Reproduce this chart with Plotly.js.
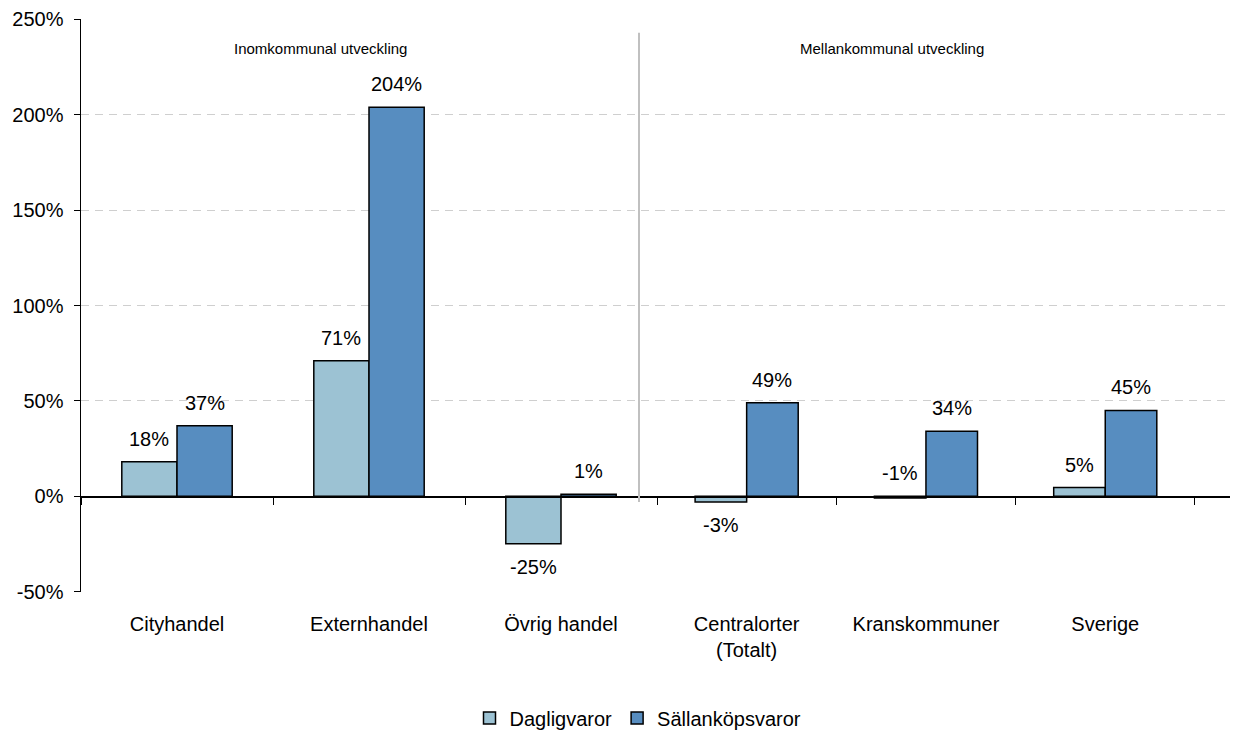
<!DOCTYPE html>
<html>
<head>
<meta charset="utf-8">
<script src="https://cdn.plot.ly/plotly-3.0.1.min.js"></script>
<style>html,body{margin:0;padding:0;background:#fff;}#chart{width:1234px;height:733px;}</style>
</head>
<body>
<div id="chart"></div>
<script>
// ---- data ----
var categories = ["Cityhandel", "Externhandel", "Övrig handel", "Centralorter<br>(Totalt)", "Kranskommuner", "Sverige"];
var dagligvaror = [18, 71, -25, -3, -1, 4.5];
var sallankopsvaror = [37, 204, 1, 49, 34, 45];
var dagligLabels = ["18%", "71%", "-25%", "-3%", "-1%", "5%"];
var sallanLabels = ["37%", "204%", "1%", "49%", "34%", "45%"];
var seriesNames = ["Dagligvaror", "Sällanköpsvaror"];
var sectionTitles = ["Inomkommunal utveckling", "Mellankommunal utveckling"];
var yTicks = [-50, 0, 50, 100, 150, 200, 250];
var yTickText = ["-50%", "0%", "50%", "100%", "150%", "200%", "250%"];

// ---- style ----
var FONT = "Liberation Sans, Arial, sans-serif";
var C1 = "#9cc2d3", C2 = "#578dc0";
var W = 1234, H = 733, ML = 81, MR = 4, MT = 19, MB = 141;
var plotW = W - ML - MR, plotH = H - MT - MB;
var yRange = [-50.25, 250.25];
var split = (657 - ML) / plotW;
var rightCat = 179.3;
var rightSpan = (plotW * (1 - split)) / rightCat;
var BARGAP = 0.425;
// label side for Dagligvaror (the -1% label sits above the axis)
var dagligSide = ["up", "up", "down", "down", "up", "up"];

var leftCats = categories.slice(0, 3), rightCats = categories.slice(3);
function tr(name, x, y, color, xa, show) {
  return {type: "bar", name: name, x: x, y: y, xaxis: xa, yaxis: "y",
    marker: {color: color, line: {color: "#000", width: 1.5}},
    showlegend: show, legendgroup: name, hoverinfo: "skip"};
}
var data = [
  tr(seriesNames[0], leftCats, dagligvaror.slice(0, 3), C1, "x", true),
  tr(seriesNames[1], leftCats, sallankopsvaror.slice(0, 3), C2, "x", true),
  tr(seriesNames[0], rightCats, dagligvaror.slice(3), C1, "x2", false),
  tr(seriesNames[1], rightCats, sallankopsvaror.slice(3), C2, "x2", false)
];

var zeroPos = (0 - yRange[0]) / (yRange[1] - yRange[0]);
var leftCatPx = plotW * split / 3;
var annotations = [];
categories.forEach(function (c, i) {
  var xref = i < 3 ? "x" : "x2";
  var catPx = i < 3 ? leftCatPx : rightCat;
  var off = catPx * (1 - BARGAP) / 4;
  var vals = [dagligvaror[i], sallankopsvaror[i]];
  var labs = [dagligLabels[i], sallanLabels[i]];
  vals.forEach(function (v, k) {
    var up = k === 0 ? dagligSide[i] === "up" : v >= 0;
    annotations.push({x: c, y: up ? Math.max(v, 0) : Math.min(v, 0), xref: xref, yref: "y",
      text: labs[k], showarrow: false, xshift: k === 0 ? -off : off, yshift: up ? 23 : -23,
      yanchor: "middle", font: {family: FONT, size: 20, color: "#000"}});
  });
});
annotations.push({x: (320 - ML) / plotW, y: 235, xref: "paper", yref: "y", text: sectionTitles[0], showarrow: false,
  xanchor: "center", yanchor: "middle", font: {family: FONT, size: 15, color: "#000"}});
annotations.push({x: (892 - ML) / plotW, y: 235, xref: "paper", yref: "y", text: sectionTitles[1], showarrow: false,
  xanchor: "center", yanchor: "middle", font: {family: FONT, size: 15, color: "#000"}});

function xaxis(domain, range) {
  return {domain: domain, range: range, type: "category", anchor: "free", position: zeroPos,
    showline: true, linecolor: "#000", linewidth: 1.5, ticks: "outside", ticklen: 7, tickcolor: "#000",
    tickson: "boundaries", showgrid: false, zeroline: false, fixedrange: true, automargin: false,
    ticklabelstandoff: 109, tickfont: {family: FONT, size: 20, color: "#000"}};
}

var layout = {
  width: W, height: H, margin: {l: ML, r: MR, t: MT, b: MB, autoexpand: false},
  paper_bgcolor: "#fff", plot_bgcolor: "#fff",
  barmode: "group", bargap: BARGAP, bargroupgap: 0,
  xaxis: xaxis([0, split], [-0.5, 2.5]),
  xaxis2: xaxis([split, 1], [-0.5, rightSpan - 0.5]),
  yaxis: {range: yRange, tickmode: "array", tickvals: yTicks, ticktext: yTickText,
    showline: true, linecolor: "#000", linewidth: 1.5,
    ticks: "outside", ticklen: 6, tickcolor: "#000", showgrid: true, gridcolor: "#cfcfcf", griddash: "8px,6px",
    gridwidth: 1, zeroline: false, automargin: false, ticklabelstandoff: 6,
    tickfont: {family: FONT, size: 20, color: "#000"}},
  shapes: [{type: "line", xref: "paper", yref: "y", x0: (639 - ML) / plotW, x1: (639 - ML) / plotW,
    y0: -3, y1: 243, line: {color: "#c0c0c0", width: 2}}],
  annotations: annotations,
  showlegend: true,
  legend: {orientation: "h", x: (638 - ML) / plotW, xanchor: "center", y: -(718 - (H - MB)) / plotH, yanchor: "middle",
    font: {family: FONT, size: 20, color: "#000"}, itemwidth: 30, tracegroupgap: 0, bgcolor: "rgba(0,0,0,0)"}
};

Plotly.newPlot("chart", data, layout, {staticPlot: true, displayModeBar: false});
</script>
</body>
</html>
